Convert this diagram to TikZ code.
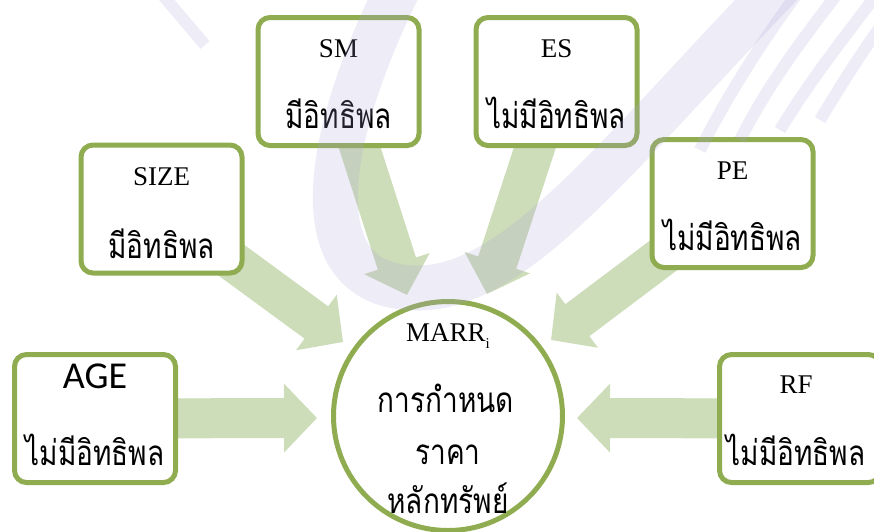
\documentclass[tikz,border=0pt]{standalone}
\usepackage{fontspec}
\setmainfont{Liberation Serif}
\newfontfamily\thai[Script=Thai,FakeStretch=0.8]{Loma}
\newfontfamily\calib{Carlito}
\usetikzlibrary{arrows.meta}
\definecolor{boxgreen}{RGB}{143,172,80}
\definecolor{arrowgreen}{RGB}{205,220,185}
\definecolor{wmark}{RGB}{170,160,215}
\pgfdeclarelayer{bg}
\pgfdeclarelayer{fg}
\pgfsetlayers{bg,main,fg}
\begin{document}
\begin{tikzpicture}[x=1pt,y=-1pt,
  box/.style={draw=boxgreen,line width=5pt,rounded corners=12pt,fill=white,minimum width=161pt,minimum height=128pt,inner sep=0pt},
  hub/.style={circle,draw=boxgreen,line width=5pt,fill=white,minimum size=229pt,inner sep=0pt},
  bigarrow/.style={draw=arrowgreen,line width=40pt,-{Triangle[width=67pt,length=33pt]}},
  lat/.style={font=\fontsize{27}{27}\selectfont,anchor=base,inner sep=0pt},
  th/.style={font=\thai\fontsize{35}{35}\selectfont,anchor=base,inner sep=0pt},
  wm/.style={draw=wmark,opacity=0.2}]
\useasboundingbox (0,0) rectangle (874,531);
% boxes
\node[box] (age) at (95,418.5) {};
\node[box] (size) at (161.5,209) {};
\node[box] (sm) at (338.5,81.5) {};
\node[box] (es) at (556.5,81.5) {};
\node[box] (pe) at (732.5,203.5) {};
\node[box] (rf) at (800,418.5) {};
\node[hub] (hub) at (448,416) {};
% arrow tips
\coordinate (tAGE) at (317,418);
\coordinate (tSIZE) at (343,342);
\coordinate (tSM) at (407,295);
\coordinate (tES) at (487,294);
\coordinate (tPE) at (551,340);
\coordinate (tRF) at (577,418);
\begin{pgfonlayer}{bg}
\draw[bigarrow] (age.center) -- (tAGE);
\draw[bigarrow] (size.center) -- (tSIZE);
\draw[bigarrow] (sm.center) -- (tSM);
\draw[bigarrow] (es.center) -- (tES);
\draw[bigarrow] (pe.center) -- (tPE);
\draw[bigarrow] (rf.center) -- (tRF);
\end{pgfonlayer}
% texts
\node[font=\calib\fontsize{38}{38}\selectfont,anchor=base,inner sep=0pt] (ageA) at (95,388) {AGE};
\node[th] (ageB) at (95,465) {ไม่มีอิทธิพล};
\node[lat] (sizeA) at (161.5,185) {SIZE};
\node[th] (sizeB) at (161.5,258) {มีอิทธิพล};
\node[lat] (smA) at (338.5,57) {SM};
\node[th] (smB) at (338.5,128) {มีอิทธิพล};
\node[lat] (esA) at (556.5,57) {ES};
\node[th] (esB) at (556.5,128) {ไม่มีอิทธิพล};
\node[lat] (peA) at (732.5,179) {PE};
\node[th] (peB) at (732.5,250) {ไม่มีอิทธิพล};
\node[lat] (rfA) at (796,393) {RF};
\node[th] (rfB) at (796,465) {ไม่มีอิทธิพล};
\node[lat] (hubA) at (448,341) {MARR\raisebox{-7pt}{\fontsize{15}{15}\selectfont i}};
\node[th] (hubB) at (446,412) {การกำหนด};
\node[th] (hubC) at (448,464) {ราคา};
\node[th] (hubD) at (448,513) {หลักทรัพย์};
% watermark
\begin{pgfonlayer}{fg}
\draw[wm,line width=45pt] (405,-25) .. controls (330,120) and (290,290) .. (420,288) .. controls (520,286) and (620,150) .. (790,-25);
\draw[wm,line width=12pt] (160,-8) -- (205,45);
\draw[wm,line width=12pt] (700,150) .. controls (730,90) and (770,30) .. (800,-10);
\draw[wm,line width=12pt] (740,140) .. controls (770,80) and (810,30) .. (840,-10);
\draw[wm,line width=12pt] (780,130) .. controls (810,80) and (850,30) .. (880,-10);
\draw[wm,line width=12pt] (820,120) .. controls (850,70) and (870,40) .. (900,0);
\end{pgfonlayer}
\end{tikzpicture}
\end{document}
